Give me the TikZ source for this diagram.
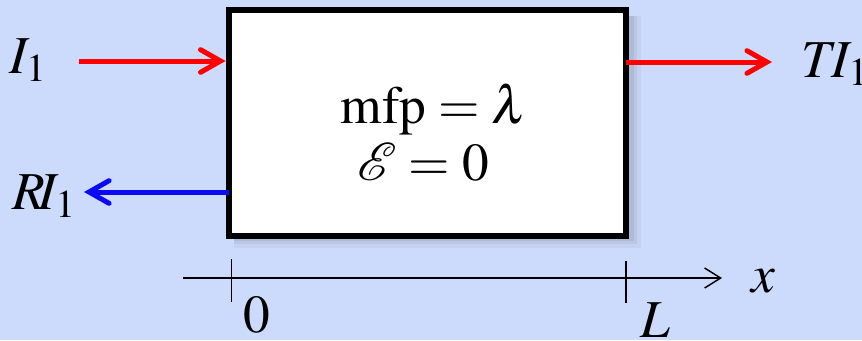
\documentclass[tikz,border=0pt]{standalone}
\usepackage{mathptmx}
\usepackage{fontspec}
\setmainfont{Liberation Serif}
\definecolor{bgblue}{RGB}{204,218,251}
\definecolor{inred}{RGB}{255,0,0}
\definecolor{outblue}{RGB}{10,10,245}
\usetikzlibrary{arrows.meta,positioning,calc}

\tikzset{
	big/.style={font=\fontsize{40}{48}\selectfont, inner sep=0pt, anchor=base},
	flux/.style={line width=3.75pt, -{Straight Barb[length=15pt,width=17pt,line cap=round]}},
	axis/.style={line width=1.1pt, -{Straight Barb[length=12pt,width=15pt]}},
}

\begin{document}
\begin{tikzpicture}[x=0.75pt,y=0.75pt,yscale=-1,xscale=1]
	% background
	\fill [bgblue] (0,0) rectangle (862,340);
	\useasboundingbox (0,0) rectangle (862,340);
	
	% soft shadow of the slab
	\fill [black, opacity=0.04] (234,16) rectangle (641,248);
	\fill [black, opacity=0.05] (234,16) rectangle (637,244);
	\fill [black, opacity=0.06] (234,16) rectangle (634,241);
	
	% slab
	\node (slab) [draw, fill=white, line width=4.5pt, minimum width=298pt, minimum height=169.5pt, inner sep=0pt] at (427.25,123) {};
	
	% text in slab
	\node (mfp) [big] at (434,123) {$\mathrm{mfp} = \lambda$};
	\node (field) [big] at (423,180) {$\mathcal{E} = 0$};
	
	% fluxes
	\coordinate (inStart) at (79,61);
	\coordinate (outEnd) at (772,62);
	\coordinate (reflEnd) at (84,192);
	\draw [flux, inred] (inStart) -- (slab.west |- inStart);
	\draw [flux, inred] ($(slab.east |- outEnd)+(-3,0)$) -- (outEnd);
	\draw [flux, outblue] ($(slab.west |- reflEnd)+(3,0)$) -- (reflEnd);
	
	% labels
	\node (lblI) [big] at (28,73) {$I_1$};
	\node (lblT) [big] at (835,77) {$T\!I_1$};
	\node (lblR) [big] at (44,209) {$R\!I_1$};
	
	% x axis
	\coordinate (axStart) at (183,278);
	\coordinate (axEnd) at (722,278);
	\draw [axis] (axStart) -- (axEnd);
	\coordinate (tick0) at (231.5,278);
	\coordinate (tickL) at (626,278);
	\draw [line width=1.1pt] ($(tick0)+(0,-19)$) -- ($(tick0)+(0,24)$);
	\draw [line width=1.1pt] ($(tickL)+(0,-17)$) -- ($(tickL)+(0,25)$);
	\node (lbl0) [big] at (257,332) {$0$};
	\node (lblL) [big] at (655,337) {$L$};
	\node (lblx) [big] at (763,292) {$x$};
	
\end{tikzpicture}
\end{document}
